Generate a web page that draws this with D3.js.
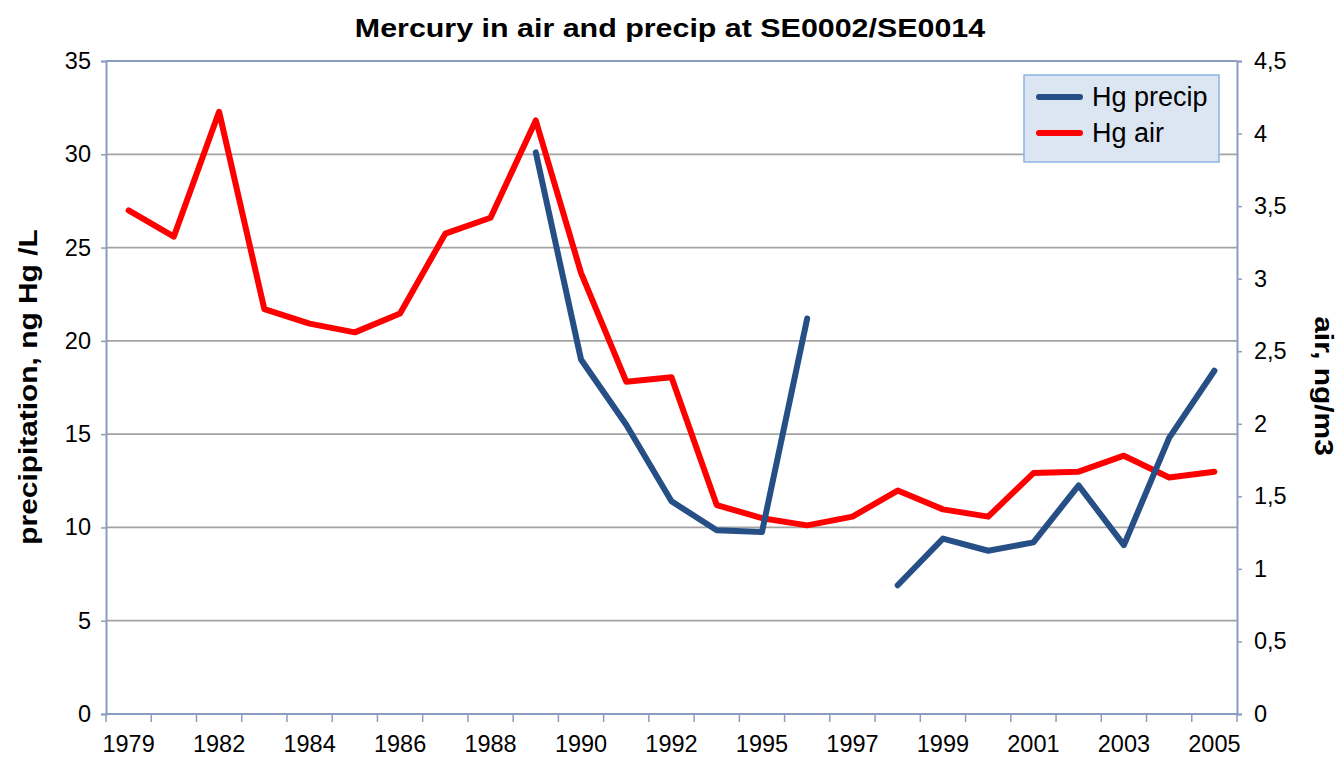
<!DOCTYPE html>
<html>
<head>
<meta charset="utf-8">
<script src="https://cdn.jsdelivr.net/npm/d3@7"></script>
<style>
  body { margin: 0; background: #fff; }
  text { font-family: "Liberation Sans", Arial, sans-serif; fill: #000; }
</style>
</head>
<body>
<script>
// years on the category axis (25 categories, every other one labelled)
var years = [1979, 1980, 1982, 1983, 1984, 1985, 1986, 1987, 1988, 1989, 1990, 1991, 1992,
             1994, 1995, 1996, 1997, 1998, 1999, 2000, 2001, 2002, 2003, 2004, 2005]
var labelYears = [1979, 1982, 1984, 1986, 1988, 1990, 1992, 1995, 1997, 1999, 2001, 2003, 2005]

// Hg in precipitation, ng Hg /L (left axis)
var hgPrecip = [null, null, null, null, null, null, null, null, null, 30.1, 19.0, 15.5, 11.4,
                9.85, 9.75, 21.2, null, 6.9, 9.4, 8.75, 9.2, 12.25, 9.05, 14.8, 18.4]
// Hg in air, ng/m3 (right axis)
var hgAir = [3.47, 3.29, 4.15, 2.79, 2.69, 2.63, 2.76, 3.31, 3.42, 4.09, 3.04, 2.29, 2.32,
             1.44, 1.35, 1.30, 1.36, 1.54, 1.41, 1.36, 1.66, 1.67, 1.78, 1.63, 1.67]

var leftTicks = [0, 5, 10, 15, 20, 25, 30, 35]
var rightTicks = [0, 0.5, 1, 1.5, 2, 2.5, 3, 3.5, 4, 4.5]

var width = 1342, height = 758
var plot = {left: 106, right: 1237, top: 61, bottom: 714}
var axisColor = "#8a9dbf"
var gridColor = "#a3a3a3"
var blue = "#254f85"
var red = "#ff0000"
var tickFont = "23.5px"

var svg = d3.select("body").append("svg")
    .attr("width", width)
    .attr("height", height)

var x = d3.scaleBand().domain(years).range([plot.left, plot.right]).padding(0)
var yLeft = d3.scaleLinear().domain([0, 35]).range([plot.bottom, plot.top])
var yRight = d3.scaleLinear().domain([0, 4.5]).range([plot.bottom, plot.top])

var comma = d3.formatLocale({decimal: ",", thousands: ".", grouping: [3], currency: ["", ""]}).format("~g")

// gridlines
svg.append("g")
  .selectAll("line")
  .data(leftTicks.filter(function(d){ return d > 0 }))
  .enter().append("line")
  .attr("x1", plot.left).attr("x2", plot.right)
  .attr("y1", function(d){ return yLeft(d) }).attr("y2", function(d){ return yLeft(d) })
  .attr("stroke", function(d){ return d == 35 ? axisColor : gridColor })
  .attr("stroke-width", 1.8)

// left axis
var gl = svg.append("g")
  .attr("transform", "translate(" + plot.left + ",0)")
  .call(d3.axisLeft(yLeft).tickValues(leftTicks).tickSize(5).tickPadding(10))
gl.select(".domain").attr("stroke", axisColor).attr("stroke-width", 2)
gl.selectAll(".tick line").attr("stroke", axisColor).attr("stroke-width", 1.5)
gl.selectAll("text").style("font-size", tickFont)

// right axis
var gr = svg.append("g")
  .attr("transform", "translate(" + plot.right + ",0)")
  .call(d3.axisRight(yRight).tickValues(rightTicks).tickSize(5).tickPadding(12).tickFormat(comma))
gr.select(".domain").attr("stroke", axisColor).attr("stroke-width", 2)
gr.selectAll(".tick line").attr("stroke", axisColor).attr("stroke-width", 1.5)
gr.selectAll("text").style("font-size", tickFont)

// bottom axis: labels centred on categories, ticks between them
var gb = svg.append("g")
  .attr("transform", "translate(0," + plot.bottom + ")")
  .call(d3.axisBottom(x).tickValues(labelYears).tickSize(0).tickPadding(21))
gb.select(".domain").remove()
gb.selectAll("text").style("font-size", tickFont)

svg.append("line")
  .attr("x1", plot.left).attr("x2", plot.right)
  .attr("y1", plot.bottom).attr("y2", plot.bottom)
  .attr("stroke", axisColor).attr("stroke-width", 2)

svg.append("g")
  .selectAll("line")
  .data(years.concat(["end"]))
  .enter().append("line")
  .attr("x1", function(d){ return d == "end" ? plot.right : x(d) })
  .attr("x2", function(d){ return d == "end" ? plot.right : x(d) })
  .attr("y1", plot.bottom).attr("y2", plot.bottom + 8)
  .attr("stroke", axisColor).attr("stroke-width", 1.5)

// lines
var cx = function(d, i){ return x(years[i]) + x.bandwidth() / 2 }

var precipLine = d3.line()
  .defined(function(d){ return d != null })
  .x(cx)
  .y(function(d){ return yLeft(d) })

var airLine = d3.line()
  .x(cx)
  .y(function(d){ return yRight(d) })

svg.append("path")
  .datum(hgAir)
  .attr("d", airLine)
  .attr("fill", "none")
  .attr("stroke", red)
  .attr("stroke-width", 6)
  .attr("stroke-linejoin", "round")
  .attr("stroke-linecap", "round")

svg.append("path")
  .datum(hgPrecip)
  .attr("d", precipLine)
  .attr("fill", "none")
  .attr("stroke", blue)
  .attr("stroke-width", 6)
  .attr("stroke-linejoin", "round")
  .attr("stroke-linecap", "round")

// title (bold text in the original is set wide)
svg.append("text")
  .attr("transform", "translate(670,37) scale(1.17,1)")
  .attr("text-anchor", "middle")
  .style("font-size", "26px")
  .style("font-weight", "bold")
  .text("Mercury in air and precip at SE0002/SE0014")

// axis titles
svg.append("text")
  .attr("transform", "translate(37,387) rotate(-90) scale(1.15,1)")
  .attr("text-anchor", "middle")
  .style("font-size", "26px")
  .style("font-weight", "bold")
  .text("precipitation, ng Hg /L")

svg.append("text")
  .attr("transform", "translate(1315,386) rotate(90) scale(1.15,1)")
  .attr("text-anchor", "middle")
  .style("font-size", "26px")
  .style("font-weight", "bold")
  .text("air, ng/m3")

// legend
var legend = svg.append("g").attr("transform", "translate(1024,75)")
legend.append("rect")
  .attr("width", 195).attr("height", 87)
  .attr("fill", "#dce6f2")
  .attr("stroke", "#8db3e2")
  .attr("stroke-width", 1.5)

var legendItems = [{name: "Hg precip", color: blue}, {name: "Hg air", color: red}]
legendItems.forEach(function(item, i){
  var yy = 22 + i * 36
  legend.append("line")
    .attr("x1", 15).attr("x2", 56)
    .attr("y1", yy).attr("y2", yy)
    .attr("stroke", item.color)
    .attr("stroke-width", 6)
    .attr("stroke-linecap", "round")
  legend.append("text")
    .attr("x", 68).attr("y", yy + 9)
    .style("font-size", "27px")
    .text(item.name)
})
</script>
</body>
</html>
